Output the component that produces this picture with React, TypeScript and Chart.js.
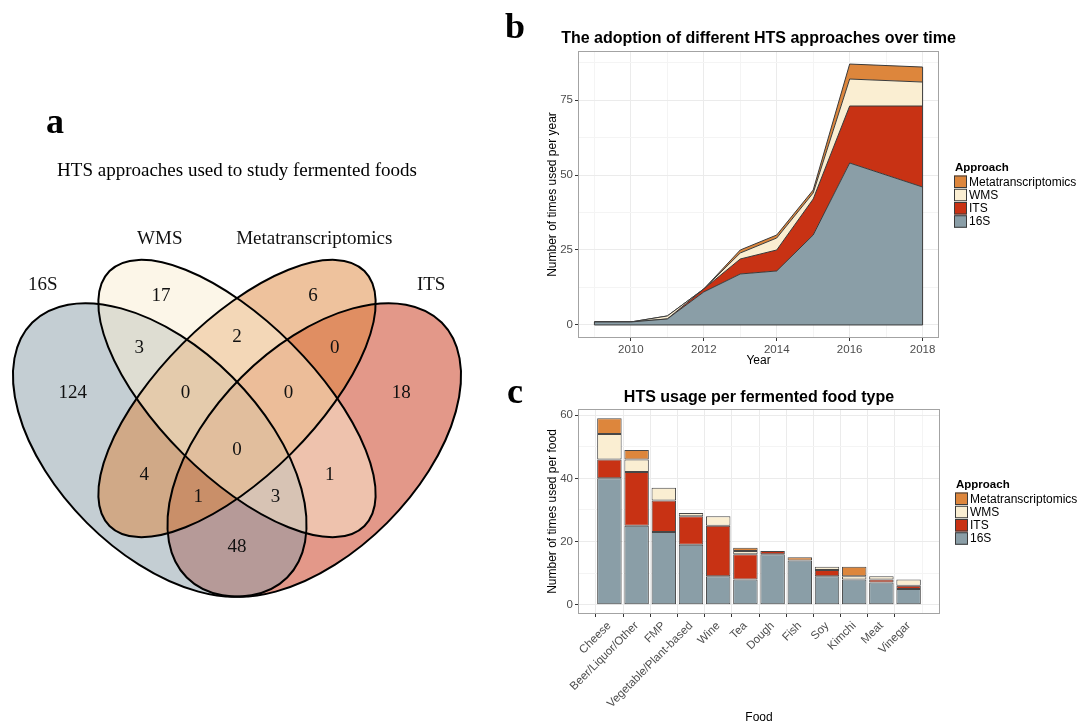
import React, { useEffect, useRef } from "react";
import { Chart, registerables } from "chart.js";

Chart.register(...registerables);

// ---------- shared series ----------
const APPROACHES = ["16S", "ITS", "WMS", "Metatranscriptomics"];
const APPROACH_COLORS = ["#8a9ea7", "#c83214", "#faeed2", "#dd863c"];

// ---------- b: approach usage per year ----------
const YEARS = [2009, 2010, 2011, 2012, 2013, 2014, 2015, 2016, 2018];
const YEAR_16S = [1, 1, 2, 11, 17, 18, 30, 54, 46];
const YEAR_ITS = [0, 0, 0, 1, 5, 7, 12, 19, 27];
const YEAR_WMS = [0, 0, 1, 0, 2, 4, 2, 9, 8];
const YEAR_META = [0, 0, 0, 0, 1, 1, 1, 5, 5];
const YEAR_GRID = [2009, 2010, 2011, 2012, 2013, 2014, 2015, 2016, 2017, 2018];
const YEAR_TICK_LABELS = [2010, 2012, 2014, 2016, 2018];
const PER_YEAR_GRID = [0, 12.5, 25, 37.5, 50, 62.5, 75, 87.5];
const PER_YEAR_TICK_LABELS = [0, 25, 50, 75];

// ---------- c: approach usage per food ----------
const FOODS = [
  "Cheese",
  "Beer/Liquor/Other",
  "FMP",
  "Vegetable/Plant-based",
  "Wine",
  "Tea",
  "Dough",
  "Fish",
  "Soy",
  "Kimchi",
  "Meat",
  "Vinegar",
];
const FOOD_16S = [40, 25, 23, 19, 9, 8, 16, 14, 9, 8, 7, 5];
const FOOD_ITS = [6, 17, 10, 9, 16, 8, 1, 0, 2, 0, 1, 1];
const FOOD_WMS = [8, 4, 4, 1, 3, 1, 0, 0, 1, 1, 1, 2];
const FOOD_META = [5, 3, 0, 0, 0, 1, 0, 1, 0, 3, 0, 0];
const PER_FOOD_GRID = [0, 10, 20, 30, 40, 50, 60];
const PER_FOOD_TICK_LABELS = [0, 20, 40, 60];

// ---------- a: four-set overlap counts ----------
const VENN_SETS = ["16S", "WMS", "Metatranscriptomics", "ITS"];
// 16S, WMS, Meta, ITS, 16S+WMS, WMS+Meta, Meta+ITS, 16S+WMS+Meta, WMS+Meta+ITS,
// all four, 16S+Meta, WMS+ITS, 16S+Meta+ITS, 16S+WMS+ITS, 16S+ITS
const VENN_COUNTS = [124, 17, 6, 18, 3, 2, 0, 0, 0, 0, 4, 1, 1, 3, 48];

// ---------- layout of the four-ellipse diagram (diagram units) ----------
const VENN_REGION_POS: [number, number][] = [
  [0.181, 0.581], [0.3525, 0.769], [0.6475, 0.769], [0.819, 0.581],
  [0.31, 0.668], [0.5, 0.689], [0.69, 0.668],
  [0.4, 0.581], [0.6, 0.581], [0.5, 0.47],
  [0.32, 0.4215], [0.68, 0.4215], [0.425, 0.379], [0.575, 0.379], [0.5, 0.282],
];
const VENN_SET_LABEL_POS: [number, number][] = [
  [0.123, 0.79], [0.35, 0.88], [0.65, 0.88], [0.877, 0.79],
];
const VENN_SHAPES = [
  { cx: 0.35, cy: 0.47, a: 0.35, b: 0.2, tilt: 45 },
  { cx: 0.5, cy: 0.57, a: 0.35, b: 0.15, tilt: 45 },
  { cx: 0.5, cy: 0.57, a: 0.35, b: 0.15, tilt: -45 },
  { cx: 0.65, cy: 0.47, a: 0.35, b: 0.2, tilt: -45 },
];
const VENN_FILL_ORDER = [3, 0, 2, 1];

const SANS = '"Liberation Sans", Arial, Helvetica, sans-serif';
const SERIF = '"Liberation Serif", "Times New Roman", serif';
const TICK_GREY = "#4d4d4d";
const GRID_MAJOR = "#ebebeb";
const GRID_MINOR = "#f4f4f4";
const OUTLINE = "#3a3a3a";

const colorOf = (name: string) => APPROACH_COLORS[APPROACHES.indexOf(name)];

// title, legend, panel frame and panel letter for the ggplot-like panels
const panelDecor = {
  id: "panelDecor",
  afterDraw(chart: any, _args: any, opts: any) {
    const { ctx, chartArea: ca } = chart;
    ctx.save();
    ctx.strokeStyle = "#a3a3a3";
    ctx.lineWidth = 1;
    ctx.strokeRect(ca.left + 0.5, ca.top + 0.5, ca.right - ca.left - 1, ca.bottom - ca.top - 1);

    ctx.fillStyle = "#000";
    ctx.textAlign = "center";
    ctx.textBaseline = "middle";
    ctx.font = `bold 16px ${SANS}`;
    ctx.fillText(opts.title, (ca.left + ca.right) / 2, opts.titleY);

    ctx.textAlign = "left";
    ctx.textBaseline = "alphabetic";
    ctx.font = `bold 36px ${SERIF}`;
    ctx.fillText(opts.letter, opts.letterX, opts.letterY);

    const mid = (ca.top + ca.bottom) / 2;
    const lx = ca.right + 15;
    ctx.textBaseline = "middle";
    ctx.font = `bold 11.5px ${SANS}`;
    ctx.fillText("Approach", lx + 1, mid - 27);
    ctx.font = `12px ${SANS}`;
    const items = chart.data.datasets.slice().reverse();
    items.forEach((ds: any, i: number) => {
      const y = mid - 19 + i * 13.25;
      ctx.fillStyle = ds.backgroundColor;
      ctx.fillRect(lx, y, 13, 12.5);
      ctx.strokeStyle = OUTLINE;
      ctx.lineWidth = 1;
      ctx.strokeRect(lx + 0.5, y + 0.5, 12, 11.5);
      ctx.fillStyle = "#000";
      ctx.fillText(ds.label, lx + 15, y + 6.75);
    });
    ctx.restore();
  },
};

// closes the outline of the stacked areas at both ends and along zero
const areaEnds = {
  id: "areaEnds",
  afterDatasetsDraw(chart: any) {
    const { ctx } = chart;
    const n = chart.data.datasets.length;
    const top = chart.getDatasetMeta(n - 1).data;
    const y0 = chart.scales.y.getPixelForValue(0);
    const first = top[0];
    const last = top[top.length - 1];
    ctx.save();
    ctx.strokeStyle = OUTLINE;
    ctx.lineWidth = 1;
    ctx.beginPath();
    ctx.moveTo(first.x, first.y);
    ctx.lineTo(first.x, y0);
    ctx.lineTo(last.x, y0);
    ctx.lineTo(last.x, last.y);
    ctx.stroke();
    ctx.restore();
  },
};

const axisGrid = (labelled: number[]) => ({
  color: (c: any) => (c.tick && labelled.includes(c.tick.value) ? GRID_MAJOR : GRID_MINOR),
  lineWidth: 1,
  tickLength: 3,
  tickColor: (c: any) => (c.tick && labelled.includes(c.tick.value) ? "#333" : "rgba(0,0,0,0)"),
});

function yearChart(): any {
  const values = [YEAR_16S, YEAR_ITS, YEAR_WMS, YEAR_META];
  return {
    type: "line",
    data: {
      datasets: APPROACHES.map((name, i) => ({
        label: name,
        data: YEARS.map((yr, j) => ({ x: yr, y: values[i][j] })),
        backgroundColor: APPROACH_COLORS[i],
        borderColor: OUTLINE,
        borderWidth: 1,
        pointRadius: 0,
        pointHoverRadius: 0,
        tension: 0,
        fill: i === 0 ? "origin" : "-1",
      })),
    },
    options: {
      responsive: false,
      animation: false,
      events: [],
      layout: { padding: { left: 40, right: 142, top: 51, bottom: 0 } },
      plugins: {
        legend: { display: false },
        tooltip: { enabled: false },
        title: { display: false },
        panelDecor: {
          title: "The adoption of different HTS approaches over time",
          titleY: 39,
          letter: "b",
          letterX: 5,
          letterY: 38,
        },
      },
      scales: {
        x: {
          type: "linear",
          min: 2008.55,
          max: 2018.45,
          afterBuildTicks: (s: any) => {
            s.ticks = YEAR_GRID.map((value) => ({ value }));
          },
          afterFit: (s: any) => {
            s.height = 37;
          },
          border: { display: false },
          grid: axisGrid(YEAR_TICK_LABELS),
          ticks: {
            autoSkip: false,
            maxRotation: 0,
            padding: 2,
            color: TICK_GREY,
            font: { family: SANS, size: 11.5 },
            callback: (v: any) => (YEAR_TICK_LABELS.includes(v) ? String(v) : ""),
          },
          title: {
            display: true,
            text: "Year",
            color: "#000",
            font: { family: SANS, size: 12 },
            padding: { top: 0, bottom: 7 },
          },
        },
        y: {
          stacked: true,
          min: -4.35,
          max: 91.35,
          afterBuildTicks: (s: any) => {
            s.ticks = PER_YEAR_GRID.map((value) => ({ value }));
          },
          afterFit: (s: any) => {
            s.width = 38;
          },
          border: { display: false },
          grid: axisGrid(PER_YEAR_TICK_LABELS),
          ticks: {
            autoSkip: false,
            padding: 2,
            color: TICK_GREY,
            font: { family: SANS, size: 11.5 },
            callback: (v: any) => (PER_YEAR_TICK_LABELS.includes(v) ? String(v) : ""),
          },
          title: {
            display: true,
            text: "Number of times used per year",
            color: "#000",
            font: { family: SANS, size: 12 },
            padding: { top: 5, bottom: 0 },
          },
        },
      },
    },
    plugins: [areaEnds, panelDecor],
  };
}

function foodChart(): any {
  const values = [FOOD_16S, FOOD_ITS, FOOD_WMS, FOOD_META];
  const foodIdx = FOODS.map((_, i) => i);
  return {
    type: "bar",
    data: {
      datasets: APPROACHES.map((name, i) => ({
        label: name,
        data: values[i].map((v, j) => ({ x: j, y: v })),
        backgroundColor: APPROACH_COLORS[i],
        borderColor: "#474747",
        borderWidth: 1,
        borderSkipped: false,
        barPercentage: 0.9,
        categoryPercentage: 1,
      })),
    },
    options: {
      responsive: false,
      animation: false,
      events: [],
      layout: { padding: { left: 40, right: 141, top: 34, bottom: 0 } },
      plugins: {
        legend: { display: false },
        tooltip: { enabled: false },
        title: { display: false },
        panelDecor: {
          title: "HTS usage per fermented food type",
          titleY: 23,
          letter: "c",
          letterX: 7,
          letterY: 28,
        },
      },
      scales: {
        x: {
          type: "linear",
          stacked: true,
          min: -0.6,
          max: 11.6,
          afterBuildTicks: (s: any) => {
            s.ticks = foodIdx.map((value) => ({ value }));
          },
          afterFit: (s: any) => {
            s.height = 112;
          },
          border: { display: false },
          grid: axisGrid(foodIdx),
          ticks: {
            autoSkip: false,
            minRotation: 45,
            maxRotation: 45,
            padding: 2,
            color: TICK_GREY,
            font: { family: SANS, size: 11.5 },
            callback: (v: any) => FOODS[v] ?? "",
          },
          title: {
            display: true,
            text: "Food",
            color: "#000",
            font: { family: SANS, size: 12 },
            padding: { top: 0, bottom: 1 },
          },
        },
        y: {
          stacked: true,
          min: -2.95,
          max: 61.95,
          afterBuildTicks: (s: any) => {
            s.ticks = PER_FOOD_GRID.map((value) => ({ value }));
          },
          afterFit: (s: any) => {
            s.width = 38;
          },
          border: { display: false },
          grid: axisGrid(PER_FOOD_TICK_LABELS),
          ticks: {
            autoSkip: false,
            padding: 2,
            color: TICK_GREY,
            font: { family: SANS, size: 11.5 },
            callback: (v: any) => (PER_FOOD_TICK_LABELS.includes(v) ? String(v) : ""),
          },
          title: {
            display: true,
            text: "Number of times used per food",
            color: "#000",
            font: { family: SANS, size: 12 },
            padding: { top: 5, bottom: 0 },
          },
        },
      },
    },
    plugins: [panelDecor],
  };
}

// draws the four translucent ellipses, region counts and set names
const vennDraw = {
  id: "vennDraw",
  beforeDatasetsDraw(chart: any) {
    const { ctx } = chart;
    const xs = chart.scales.x;
    const ys = chart.scales.y;
    const unit = xs.getPixelForValue(1) - xs.getPixelForValue(0);
    const path = (k: number) => {
      const e = VENN_SHAPES[k];
      ctx.beginPath();
      ctx.ellipse(
        xs.getPixelForValue(e.cx),
        ys.getPixelForValue(e.cy),
        e.a * unit,
        e.b * unit,
        (e.tilt * Math.PI) / 180,
        0,
        Math.PI * 2
      );
    };
    ctx.save();
    ctx.globalAlpha = 0.5;
    VENN_FILL_ORDER.forEach((k) => {
      path(k);
      ctx.fillStyle = colorOf(VENN_SETS[k]);
      ctx.fill();
    });
    ctx.globalAlpha = 1;
    ctx.strokeStyle = "#000";
    ctx.lineWidth = 2;
    VENN_SHAPES.forEach((_, k) => {
      path(k);
      ctx.stroke();
    });
    ctx.restore();
  },
  afterDatasetsDraw(chart: any) {
    const { ctx } = chart;
    const xs = chart.scales.x;
    const ys = chart.scales.y;
    const pts = chart.getDatasetMeta(0).data;
    ctx.save();
    ctx.fillStyle = "#111";
    ctx.textAlign = "center";
    ctx.textBaseline = "middle";
    ctx.font = `19px ${SERIF}`;
    pts.forEach((p: any, i: number) => ctx.fillText(String(VENN_COUNTS[i]), p.x, p.y));
    VENN_SETS.forEach((name, i) => {
      const [x, y] = VENN_SET_LABEL_POS[i];
      ctx.fillText(name, xs.getPixelForValue(x), ys.getPixelForValue(y));
    });
    ctx.fillStyle = "#000";
    ctx.fillText("HTS approaches used to study fermented foods", xs.getPixelForValue(0.5), 171);
    ctx.textAlign = "left";
    ctx.textBaseline = "alphabetic";
    ctx.font = `bold 36px ${SERIF}`;
    ctx.fillText("a", 46, 133);
    ctx.restore();
  },
};

function vennChart(): any {
  return {
    type: "scatter",
    data: {
      datasets: [
        {
          data: VENN_REGION_POS.map(([x, y]) => ({ x, y })),
          pointRadius: 0,
          pointHoverRadius: 0,
        },
      ],
    },
    options: {
      responsive: false,
      animation: false,
      events: [],
      layout: { padding: 0 },
      plugins: { legend: { display: false }, tooltip: { enabled: false } },
      scales: {
        x: { display: false, min: 0.0398, max: 1.0107 },
        y: { display: false, min: -0.0659, max: 1.3438 },
      },
    },
    plugins: [vennDraw],
  };
}

function ChartCanvas(props: { make: () => any; left: number; top: number; width: number; height: number }) {
  const ref = useRef<HTMLCanvasElement>(null);
  useEffect(() => {
    const chart = new Chart(ref.current as HTMLCanvasElement, props.make());
    return () => chart.destroy();
  }, []);
  return (
    <canvas
      ref={ref}
      width={props.width}
      height={props.height}
      style={{
        position: "absolute",
        left: props.left,
        top: props.top,
        width: props.width,
        height: props.height,
      }}
    />
  );
}

export default function App() {
  return (
    <div
      style={{
        position: "absolute",
        left: 0,
        top: 0,
        width: 1081,
        height: 726,
        background: "#fff",
        overflow: "hidden",
      }}
    >
      <ChartCanvas make={vennChart} left={0} top={0} width={500} height={726} />
      <ChartCanvas make={yearChart} left={500} top={0} width={581} height={375} />
      <ChartCanvas make={foodChart} left={500} top={375} width={581} height={351} />
    </div>
  );
}
